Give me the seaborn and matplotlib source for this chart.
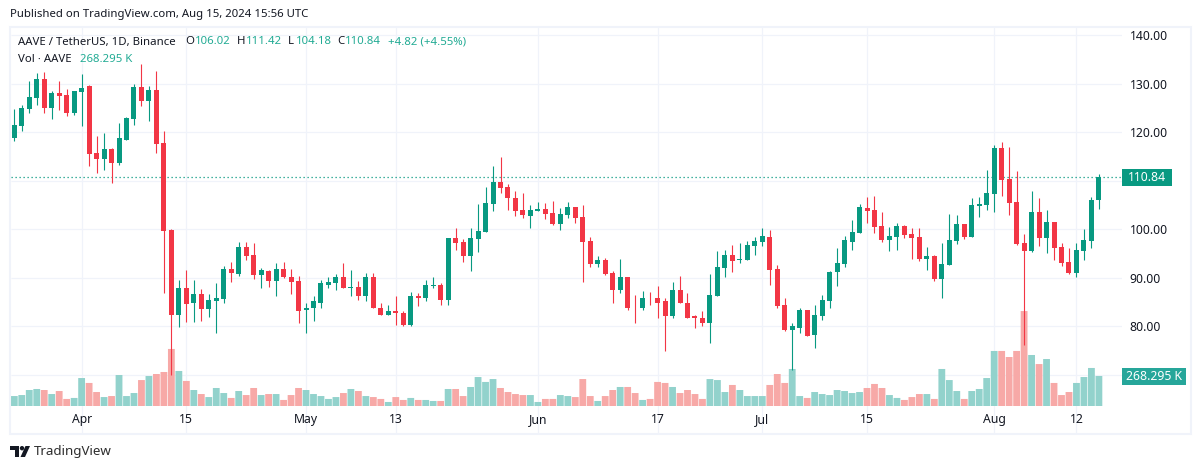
import matplotlib
matplotlib.use("Agg")
import matplotlib.pyplot as plt
from matplotlib.patches import Rectangle, Polygon, Circle
import numpy as np
import pandas as pd
import seaborn as sns

opens = [118.8,121.2,124.7,127.0,130.9,124.9,128.0,127.6,123.9,128.2,129.45,115.64,114.4,116.47,113.58,118.3,122.65,129.24,126.36,128.63,
117.7,99.86,82.34,87.91,84.82,86.67,83.58,85.23,85.64,91.82,90.79,96.36,94.71,90.59,91.41,89.35,91.82,90.18,89.35,83.28,
83.69,84.92,88.63,88.84,90.08,87.81,88.02,86.16,90.08,83.89,82.25,83.07,82.86,80.39,86.16,85.75,88.22,88.43,85.34,98.11,
97.29,94.41,97.91,99.35,105.12,109.66,108.63,106.36,103.89,102.65,103.68,104.09,103.27,101.0,102.86,104.5,102.44,97.5,92.76,93.58,
90.9,87.6,90.08,83.89,83.69,85.95,85.95,85.13,82.04,87.4,84.92,82.04,81.83,80.6,86.16,91.93,94.61,93.58,93.58,96.47,
97.29,98.32,91.73,84.51,79.36,79.77,83.28,78.33,82.04,85.13,91.11,92.76,97.29,99.15,104.44,104.02,100.73,97.84,98.46,100.73,
99.08,98.46,93.92,94.54,89.8,92.69,97.63,101.14,98.46,104.85,105.05,107.32,116.8,110.41,105.67,97.22,95.57,103.61,98.25,101.55,
96.4,93.31,91.04,95.57,97.63,106.02]
highs = [124.7,125.7,130.5,132.1,132.3,128.4,130.5,129.0,128.4,131.9,129.8,119.15,119.76,116.67,121.82,123.06,129.86,133.98,129.45,132.54,
120.18,100.0,89.56,91.62,89.56,87.7,86.67,88.94,92.44,93.27,97.39,97.39,97.18,92.03,91.62,93.06,93.27,91.82,90.38,84.72,
86.16,89.46,90.08,90.7,92.96,91.52,89.25,90.9,90.9,84.72,84.51,86.16,83.07,86.99,86.78,89.46,90.08,88.84,98.11,100.18,
97.91,100.18,105.12,108.63,112.96,114.81,109.24,107.8,107.39,104.92,105.53,105.33,105.74,104.3,105.53,104.5,104.92,98.32,94.41,93.99,
91.31,93.79,90.08,86.37,87.19,86.99,88.22,85.75,89.05,90.28,86.78,82.45,83.07,90.7,95.44,95.64,96.67,97.08,97.5,98.32,
100.18,99.76,92.55,85.95,80.6,83.69,83.48,84.31,86.37,91.31,96.05,98.53,101.82,105.12,106.7,106.91,103.61,100.52,101.34,100.93,
100.31,100.31,96.4,94.75,97.22,103.2,103.0,101.14,106.5,106.7,112.27,117.42,118.04,117.0,112.06,99.08,107.94,106.5,104.02,101.55,
97.22,96.19,97.22,100.11,106.7,111.42]
lows = [118.1,120.2,123.9,125.7,123.9,122.7,124.5,123.3,123.5,121.2,112.96,111.52,112.14,109.46,113.17,118.32,121.41,125.33,122.24,115.64,
86.9,69.98,79.87,80.9,80.9,81.11,81.93,78.63,84.82,89.15,90.38,93.68,89.76,87.91,88.11,86.26,89.97,86.67,80.7,78.74,
81.21,83.69,87.81,87.4,87.81,86.16,85.54,85.13,83.69,82.25,82.25,80.39,80.18,80.18,84.1,85.13,87.81,84.51,84.31,95.64,
93.17,91.31,95.23,99.35,103.68,107.39,103.89,102.65,102.24,100.18,103.68,102.03,100.79,99.76,102.24,101.21,89.05,92.14,92.14,90.49,
84.92,86.78,83.28,80.8,83.48,84.31,81.63,75.03,81.63,84.72,81.83,79.77,80.18,76.68,86.16,90.08,91.11,92.96,93.58,94.61,
96.47,88.63,83.89,78.95,71.12,78.54,78.12,75.65,81.42,83.89,88.22,92.14,95.64,99.15,101.34,99.28,97.43,95.57,95.78,98.25,
93.92,93.51,91.66,89.39,85.89,92.69,97.02,98.05,98.46,102.58,104.02,103.61,106.91,103.0,96.81,76.2,95.37,96.6,95.16,93.72,
92.48,90.83,90.21,93.72,96.19,104.18]
closes = [121.4,124.9,127.2,130.9,124.9,128.0,127.39,123.89,128.4,129.2,115.44,114.4,116.47,113.58,118.73,122.86,129.24,126.36,128.63,117.5,
99.66,82.34,87.91,84.61,86.67,83.58,85.44,85.85,91.82,91.0,96.36,94.5,90.59,91.62,89.35,91.82,90.18,89.15,83.17,83.89,
85.13,88.84,89.05,90.08,87.81,88.02,86.16,90.08,83.69,82.25,83.07,82.66,80.32,86.16,85.75,88.43,88.43,85.34,98.11,97.08,
94.41,98.11,99.56,105.33,109.66,108.42,106.36,103.68,102.86,103.89,104.09,103.06,101.0,103.06,104.5,102.24,97.29,92.76,93.58,90.7,
87.6,90.08,83.69,83.69,85.95,85.75,84.92,82.04,87.4,84.72,81.83,81.63,80.6,86.37,92.14,94.61,93.37,93.79,96.67,97.5,
98.53,91.52,84.1,79.36,79.98,83.28,78.12,82.25,85.34,91.11,92.96,97.7,99.35,104.5,103.82,100.52,97.84,98.66,100.73,98.87,
98.25,93.92,94.54,89.8,92.89,97.84,101.14,98.46,105.05,105.26,107.53,116.8,110.21,105.47,97.02,95.57,103.61,98.25,101.55,96.19,
93.1,91.04,95.78,97.84,106.08,110.84]
volumes_k = [89,98,143,152,143,107,134,63,72,250,206,125,80,89,277,89,116,232,268,286,
304,510,313,224,143,107,80,161,116,72,134,98,161,98,107,107,54,98,161,143,
107,89,63,80,116,152,134,89,80,63,36,80,54,72,54,54,45,45,152,152,
89,170,259,215,241,161,125,107,98,98,36,63,63,98,89,80,241,89,45,89,
143,170,170,116,54,63,215,206,170,116,143,107,63,241,232,125,188,143,89,89,
89,188,286,206,331,89,72,125,107,98,143,134,116,125,161,197,161,98,72,54,
80,107,107,63,331,232,134,63,134,152,250,492,492,438,492,849,456,375,420,206,
98,125,206,259,340,268.295]
month_ticks = [9,23,39,51,70,86,100,114,131,142]
month_labels = ["Apr","15","May","13","Jun","17","Jul","15","Aug","12"]
price_ticks = [70,80,90,100,110,120,130,140]
price_labels = ["","80.00","90.00","100.00","","120.00","130.00","140.00"]

GREEN, RED = "#089981", "#F23645"
VOLG, VOLR = "#92D2CC", "#F7A9A7"
GRID = "#F0F3FA"
INK = "#131722"
TEAL = "#22AB94"
FAMILY = ["Noto Sans", "DejaVu Sans"]

sns.set_theme(style="white")
plt.rcParams["font.family"] = FAMILY

df = pd.DataFrame({"day": np.arange(len(opens)), "open": opens, "high": highs,
                   "low": lows, "close": closes, "volume": volumes_k})
df["dir"] = np.where(df["close"] >= df["open"], "up", "down")
up = df[df["dir"] == "up"]
down = df[df["dir"] == "down"]

W, H = 1200, 469
fig = plt.figure(figsize=(12, 4.69), dpi=100, facecolor="white")
L, R, T, B = 11, 1122, 28, 433
pos = [L / W, 1 - B / H, (R - L) / W, (B - T) / H]

X0, DX = 14.3, 7.48
xlim = ((L - X0) / DX, (R - X0) / DX)
price_at = lambda y: 100 + (229.3 - y) / 4.855
KPX = 8.94
BASE = 406

ax_vol = fig.add_axes(pos, zorder=1, facecolor="white")
ax = fig.add_axes(pos, zorder=2)
ax.patch.set_visible(False)

sns.barplot(data=df, x="day", y="volume", hue="dir", native_scale=True, dodge=False,
            palette={"up": VOLG, "down": VOLR}, saturation=1, width=0.91,
            errorbar=None, legend=False, linewidth=0, ax=ax_vol)
for bar in ax_vol.patches:
    bar.set_snap(False)
ax_vol.set_xlim(*xlim)
ax_vol.set_ylim(-(B - BASE) * KPX, (BASE - T) * KPX)
ax_vol.set_yticks([])
ax_vol.set_xticks(month_ticks)
ax_vol.set_xticklabels([])
ax_vol.set_xlabel("")
ax_vol.set_ylabel("")
ax_vol.tick_params(length=0)
ax_vol.grid(axis="x", color=GRID, lw=0.9, zorder=0)
ax_vol.set_axisbelow(True)
for s in ax_vol.spines.values():
    s.set_visible(False)

ax.set_xlim(*xlim)
ax.set_ylim(price_at(B), price_at(T))
ax_vol.hlines(price_ticks, xlim[0], xlim[1], color=GRID, lw=0.9, zorder=0, transform=ax.transData)

for part, color in ((up, GREEN), (down, RED)):
    ax.vlines(part["day"], part["low"], part["high"], color=color, lw=0.8, zorder=3)
    ax.bar(part["day"], (part["close"] - part["open"]).abs().clip(lower=0.15),
           bottom=part[["open", "close"]].min(axis=1), width=0.67, color=color,
           linewidth=0, zorder=4)

ax.axhline(closes[-1], color=GREEN, lw=0.9, ls=(0, (1, 2.2)), zorder=2)

ax.yaxis.tick_right()
ax.set_yticks(price_ticks)
ax.set_yticklabels(price_labels, fontsize=8.8, color=INK)
ax.set_xticks(month_ticks)
ax.set_xticklabels(month_labels, fontsize=8.8, color=INK)
ax.tick_params(axis="y", length=0, pad=5.5)
ax.tick_params(axis="x", length=0, pad=-14.5)
ax.grid(False)
for s in ax.spines.values():
    s.set_visible(False)

ov = fig.add_axes([0, 0, 1, 1], zorder=5)
ov.set_xlim(0, W)
ov.set_ylim(H, 0)
ov.axis("off")
ov.patch.set_visible(False)
ov.add_patch(Rectangle((10, 27), 1180.5, 407, fill=False, ec=GRID, lw=1.5))
ov.add_patch(Rectangle((1122, 169), 49.5, 17, fc=GREEN, ec="none"))
ov.add_patch(Rectangle((1122, 368), 64, 17, fc="#26A69A", ec="none"))
ov.text(1147, 177.5, f"{closes[-1]:.2f}", color="white", fontsize=8.8, ha="center", va="center", weight="semibold")
ov.text(1154.5, 376.5, "268.295 K", color="white", fontsize=8.8, ha="center", va="center", weight="semibold")

fs = 8.2
ov.text(10, 14, "Published on TradingView.com, Aug 15, 2024 15:56 UTC", color=INK, fontsize=fs, va="center")
ov.text(18, 42, "AAVE / TetherUS, 1D, Binance", color=INK, fontsize=fs, va="center")
for x, lab, xv, val in ((185.5, "O", 195, "106.02"), (237, "H", 246, "111.42"),
                        (288, "L", 295.5, "104.18"), (337, "C", 345, "110.84")):
    ov.text(x, 42, lab, color=INK, fontsize=fs, va="center")
    ov.text(xv, 42, val, color=TEAL, fontsize=fs, va="center")
ov.text(388, 42, "+4.82 (+4.55%)", color=TEAL, fontsize=fs, va="center")
ov.text(18, 59, "Vol · AAVE", color=INK, fontsize=fs, va="center")
ov.text(80, 59, "268.295 K", color=TEAL, fontsize=fs, va="center")

ov.add_patch(Polygon([(10, 446), (19, 446), (19, 457), (15, 457), (15, 450.5), (10, 450.5)], fc=INK, ec="none"))
ov.add_patch(Circle((22, 448.2), 2.2, fc=INK, ec="none"))
ov.add_patch(Polygon([(25.5, 446), (30, 446), (25, 457), (20.5, 457)], fc=INK, ec="none"))
ov.text(33.5, 451.5, "TradingView", color="#2E2E2E", fontsize=9.6, va="center")

fig.savefig("out.png", dpi=100)
